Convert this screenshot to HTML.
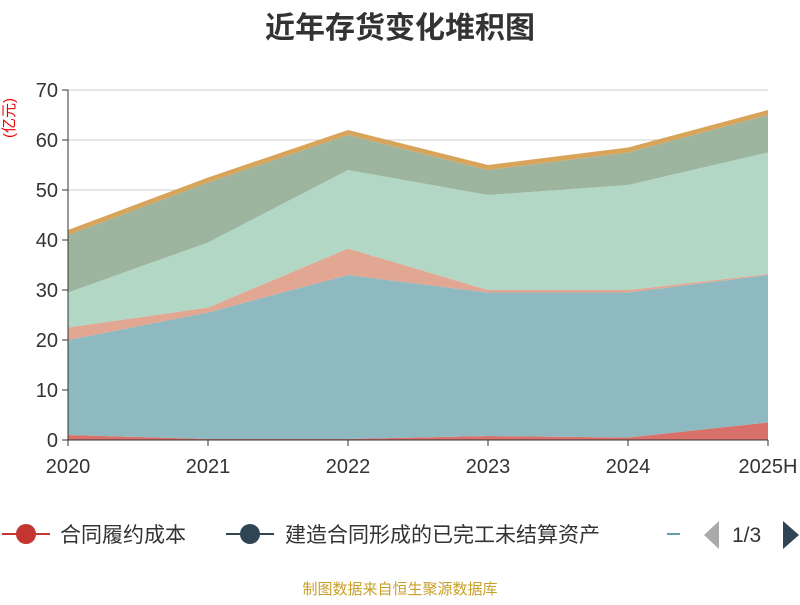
<!DOCTYPE html>
<html><head><meta charset="utf-8"><style>
body{margin:0;background:#fff;font-family:"Liberation Sans","Noto Sans CJK SC",sans-serif}
svg text{font-family:"Liberation Sans","Noto Sans CJK SC",sans-serif}
</style></head><body>
<svg width="800" height="600" id="chart">
<text x="400" y="38" text-anchor="middle" font-size="30" font-weight="bold" fill="#333">近年存货变化堆积图</text>
<text transform="translate(14,118) rotate(-90)" text-anchor="middle" font-size="15" fill="#e00">(亿元)</text>
<g id="grid"></g><g id="areas"></g><g id="axes"></g>
<g>
<g><line x1="2" y1="534" x2="50" y2="534" stroke="#c23531" stroke-width="2"/><circle cx="26" cy="534" r="10" fill="#c23531"/><text x="60" y="542" font-size="21" fill="#333">合同履约成本</text></g>
<g><line x1="226" y1="534" x2="274" y2="534" stroke="#2f4554" stroke-width="2"/><circle cx="250" cy="534" r="10" fill="#2f4554"/><text x="285" y="542" font-size="21" fill="#333">建造合同形成的已完工未结算资产</text></g>
<line x1="667" y1="534" x2="680" y2="534" stroke="#61a0a8" stroke-width="2"/>
<polygon points="719,521 719,549 704,535" fill="#aaa"/>
<text x="732" y="542" font-size="21" fill="#333">1/3</text>
<polygon points="783,521 783,549 799,535" fill="#2f4554"/>
</g>
<text x="400" y="594" text-anchor="middle" font-size="15" fill="#c8a028">制图数据来自恒生聚源数据库</text>
</svg>
<script>
const categories=["2020","2021","2022","2023","2024","2025H"];
const contractCost=[1,0.2,0.2,0.8,0.5,3.5];
const constructionAssets=[19,25.3,32.8,28.7,29,29.5];
const series3=[2.5,1,5.3,0.5,0.5,0.2];
const series4=[7,13,15.7,19,21,24.3];
const series5=[11.5,12,7,5,6.5,7.5];
const series6=[1,1,1,1,1,1];
const yTicks=[0,10,20,30,40,50,60,70];
const allSeries=[contractCost,constructionAssets,series3,series4,series5,series6];
const names=["area-contract-cost","area-construction-assets","area-series-3","area-series-4","area-series-5","area-series-6"];
const fills=["#d9716b","#8fb9c0","#e2a793","#b2d7c5","#9db49f","#d8a45a"];
const NS="http://www.w3.org/2000/svg";
const x0=68,x1=768,yb=440,yt=90,ymax=70;
const X=i=>x0+i*(x1-x0)/(categories.length-1);
const Y=v=>yb-v/ymax*(yb-yt);
const grid=document.getElementById('grid'),areas=document.getElementById('areas'),axes=document.getElementById('axes');
function mk(t,a,p){const e=document.createElementNS(NS,t);for(const k in a)e.setAttribute(k,a[k]);p.appendChild(e);return e;}
yTicks.forEach(v=>{
 const l=mk('line',{x1:x0,x2:x1,y1:Y(v),y2:Y(v),stroke:"#ccc"},grid);
 
 
 mk('line',{x1:x0-6,x2:x0,y1:Y(v),y2:Y(v),stroke:"#333"},axes);
 const t=mk('text',{x:x0-10,y:Y(v)+7,'text-anchor':'end','font-size':20,fill:'#333'},axes);
 t.textContent=v;
 
 
});
let base=categories.map(()=>0);
allSeries.forEach((s,k)=>{
 const top=base.map((b,i)=>b+s[i]);
 let pts=top.map((v,i)=>X(i)+","+Y(v));
 for(let i=categories.length-1;i>=0;i--)pts.push(X(i)+","+Y(base[i]));
 const p=mk('polygon',{points:pts.join(" "),fill:fills[k]},areas);
 
 
 base=top;
});
mk('line',{x1:x0,x2:x0,y1:yt,y2:yb,stroke:"#333"},axes);
mk('line',{x1:x0,x2:x1,y1:yb,y2:yb,stroke:"#333"},axes);
categories.forEach((c,i)=>{
 mk('line',{x1:X(i),x2:X(i),y1:yb,y2:yb+6,stroke:"#333"},axes);
 const t=mk('text',{x:X(i),y:473,'text-anchor':i==categories.length-1?'middle':'middle','font-size':20,fill:'#333'},axes);
 t.textContent=c;
 
 
});
</script>
</body></html>
